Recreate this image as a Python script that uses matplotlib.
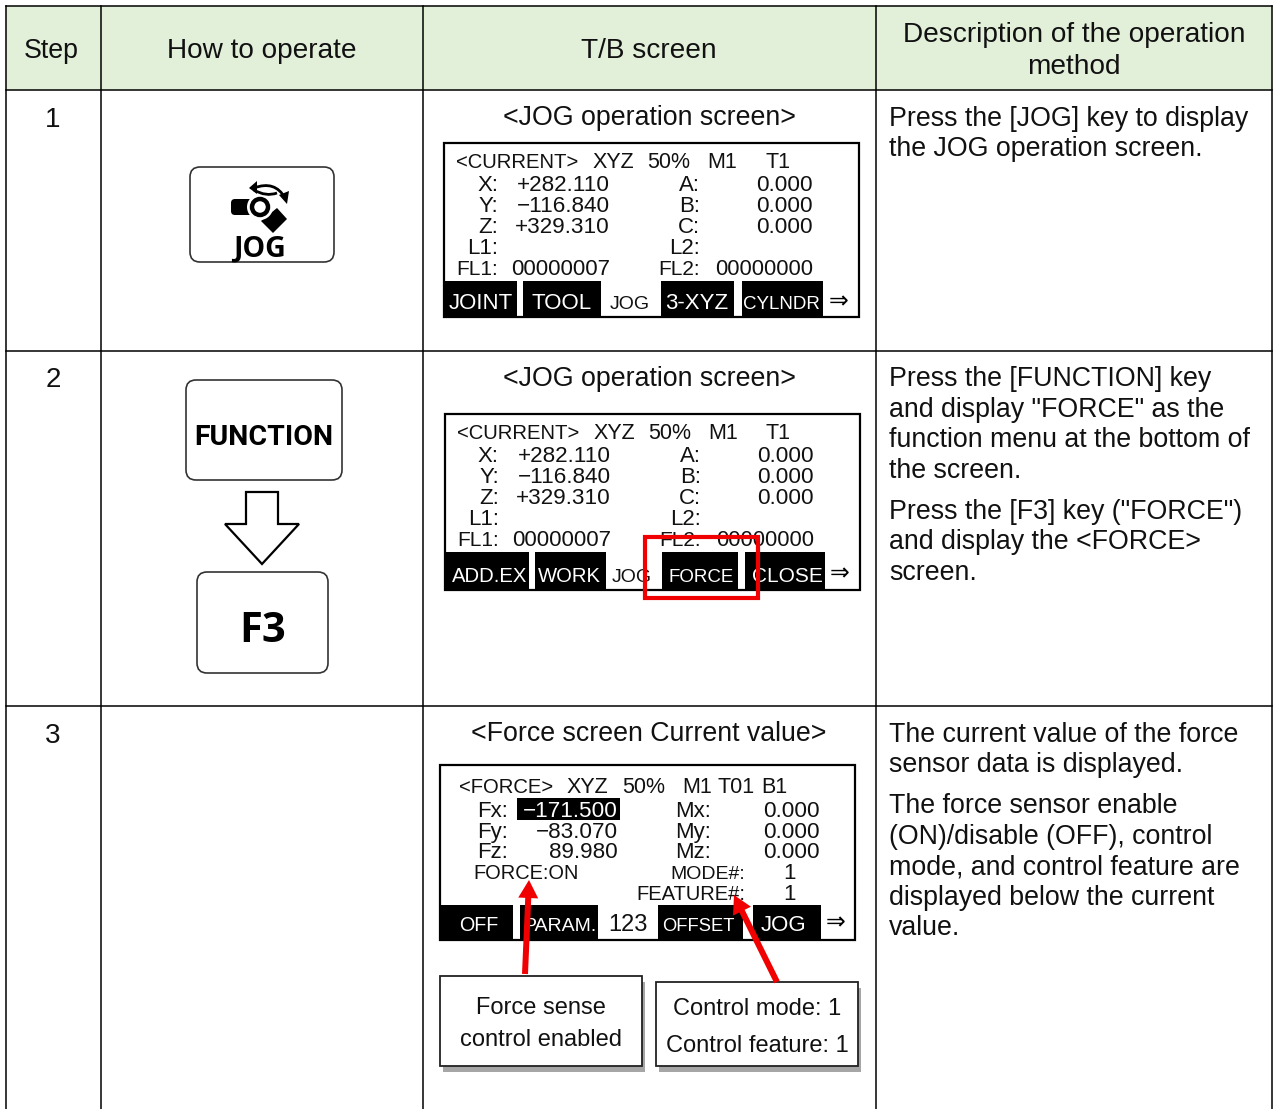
import matplotlib
matplotlib.use('Agg')
import matplotlib.pyplot as plt
from matplotlib.patches import Rectangle, FancyBboxPatch, Polygon, Circle, PathPatch, FancyArrow
from matplotlib.path import Path

plt.rcParams['font.family'] = ['Liberation Sans', 'DejaVu Sans']

# Table text
headers = ['Step', 'How to operate', 'T/B screen', 'Description of the operation\nmethod']
steps = ['1', '2', '3']
titles = ['<JOG operation screen>', '<JOG operation screen>', '<Force screen Current value>']
desc_1 = ['Press the [JOG] key to display', 'the JOG operation screen.']
desc_2 = ['Press the [FUNCTION] key', 'and display "FORCE" as the', 'function menu at the bottom of',
          'the screen.', 'Press the [F3] key ("FORCE")', 'and display the <FORCE>', 'screen.']
desc_3 = ['The current value of the force', 'sensor data is displayed.', 'The force sensor enable',
          '(ON)/disable (OFF), control', 'mode, and control feature are', 'displayed below the current', 'value.']

# Teaching box screen text
cur_top = ['<CURRENT>', 'XYZ', '50%', 'M1', 'T1']
cur_axes = ['X:', 'Y:', 'Z:', 'L1:']
cur_vals = ['+282.110', '\u2212116.840', '+329.310']
cur_axes2 = ['A:', 'B:', 'C:', 'L2:']
cur_vals2 = ['0.000', '0.000', '0.000']
fl_labels = ['FL1:', 'FL2:']
fl_vals = ['00000007', '00000000']
tabs_1 = ['JOINT', 'TOOL', 'JOG', '3-XYZ', 'CYLNDR']
tabs_2 = ['ADD.EX', 'WORK', 'JOG', 'FORCE', 'CLOSE']
force_top = ['<FORCE>', 'XYZ', '50%', 'M1', 'T01', 'B1']
force_axes = ['Fx:', 'Fy:', 'Fz:']
force_vals = ['\u2212171.500', '\u221283.070', '89.980']
moment_axes = ['Mx:', 'My:', 'Mz:']
moment_vals = ['0.000', '0.000', '0.000']
tabs_3 = ['OFF', 'PARAM.', '123', 'OFFSET', 'JOG']
note_a = ['Force sense', 'control enabled']
note_b = ['Control mode: 1', 'Control feature: 1']

fig = plt.figure(figsize=(12.73, 11.09), dpi=100)
ax = fig.add_axes([0, 0, 1, 1])
ax.set_xlim(0, 1273)
ax.set_ylim(1109, 0)
ax.axis('off')


def put(x, y, s, size=16, ha='left', color='#111111', **kw):
    ax.text(x, y, s, fontsize=size, ha=ha, va='baseline', color=color, **kw)


# table grid
GREEN = '#E2EFD9'
BODY = 19.25
ax.add_patch(Rectangle((6, 6), 1266, 84, fc=GREEN, ec='none'))
for x in [6, 101, 423, 876, 1272]:
    ax.plot([x, x], [6, 1109], color='black', lw=1.1)
for y in [6, 90, 351, 706]:
    ax.plot([6, 1272], [y, y], color='black', lw=1.1)

put(51.5, 58, headers[0], 19.3, 'center')
put(262, 58, headers[1], 20.2, 'center')
put(649, 58, headers[2], 20.2, 'center')
line1, line2 = headers[3].split('\n')
put(1074, 42, line1, 20.2, 'center')
put(1074, 74, line2, 20.2, 'center')

for y, s in zip([127, 387, 743], steps):
    put(53, y, s, 20, 'center')
for y, s in zip([125, 386, 741], titles):
    put(649, y, s, BODY, 'center')
for y, s in zip([126, 156], desc_1):
    put(889, y, s, BODY)
for y, s in zip([386, 417, 447, 478, 519, 549, 580], desc_2):
    put(889, y, s, BODY)
for y, s in zip([742, 772, 813, 844, 874, 905, 935], desc_3):
    put(889, y, s, BODY)


# key icons
def key(x0, y0, x1, y1):
    ax.add_patch(FancyBboxPatch((x0 + 10, y0 + 10), x1 - x0 - 20, y1 - y0 - 20,
                                boxstyle='round,pad=10,rounding_size=10',
                                fc='white', ec='#333333', lw=1.2))


key(190, 167, 334, 262)
key(186, 380, 342, 480)
key(197, 572, 328, 673)

ax.add_patch(FancyBboxPatch((235, 203), 20, 8, boxstyle='round,pad=4,rounding_size=4',
                            fc='black', ec='none'))
ax.add_patch(Polygon([(277, 208), (287, 219), (273, 233), (261, 221)], fc='black', ec='none'))
ax.add_patch(Circle((260, 207), 13, fc='white', ec='none'))
ax.add_patch(Circle((260, 207), 8, fc='white', ec='black', lw=3.2))
ax.add_patch(PathPatch(Path([(254, 188), (275, 180), (285, 198)],
                            [Path.MOVETO, Path.CURVE3, Path.CURVE3]), fc='none', ec='black', lw=2))
ax.add_patch(PathPatch(Path([(254, 190), (266, 197), (277, 193)],
                            [Path.MOVETO, Path.CURVE3, Path.CURVE3]), fc='none', ec='black', lw=2))
ax.add_patch(Polygon([(249, 188), (257, 181), (257, 194)], fc='black', ec='none'))
ax.add_patch(Polygon([(287, 204), (279, 195), (289, 191)], fc='black', ec='none'))
put(259.5, 257, 'JOG', 20.5, 'center', 'black', family='Open Sans', weight='bold')
put(264, 445, 'FUNCTION', 20.5, 'center', 'black', family='Roboto', weight='bold')
put(263, 642, 'F3', 30, 'center', 'black', family='Open Sans', weight='bold')
ax.add_patch(Polygon([(246, 492), (278, 492), (278, 524), (299, 524), (262, 564), (225, 524), (246, 524)],
                     fc='white', ec='black', lw=1.6, joinstyle='miter'))


# teaching box screens
def screen(x0, y0, x1, y1):
    ax.add_patch(Rectangle((x0, y0), x1 - x0, y1 - y0, fc='white', ec='black', lw=1.6))


def current_rows(dx, dy):
    for x, s, z in zip([456, 593, 647, 707, 765], cur_top, [14.6, 15.5, 15.5, 15.5, 15.5]):
        put(x + dx, 168 + dy, s, z)
    for y, a, v, b, w in zip([191, 212, 233], cur_axes, cur_vals, cur_axes2, cur_vals2):
        put(498 + dx, y + dy, a, 16, 'right')
        put(610 + dx, y + dy, v, 16.2, 'right')
        put(700 + dx, y + dy, b, 16, 'right')
        put(813 + dx, y + dy, w, 16.2, 'right')
    put(498 + dx, 254 + dy, cur_axes[3], 16, 'right')
    put(700 + dx, 254 + dy, cur_axes2[3], 16, 'right')
    put(498 + dx, 275 + dy, fl_labels[0], 15, 'right')
    put(610 + dx, 275 + dy, fl_vals[0], 16, 'right')
    put(700 + dx, 275 + dy, fl_labels[1], 15, 'right')
    put(813 + dx, 275 + dy, fl_vals[1], 15.8, 'right')


def arrow_glyph(x, y):
    put(x, y, '\u21d2', 17, 'center', 'black', family='DejaVu Sans', zorder=3)


screen(444, 143, 859, 317)
current_rows(0, 0)
for (a, b) in [(444, 517), (523, 601), (661, 734), (742, 823)]:
    ax.add_patch(Rectangle((a, 281), b - a, 36, fc='black', ec='none', zorder=2))
for c, s, z, col in zip([481, 562, 630, 697, 781], tabs_1, [16, 16, 14, 16, 13.5],
                        ['white', 'white', '#111111', 'white', 'white']):
    put(c, 309, s, z, 'center', col, zorder=3)
arrow_glyph(839, 308)

screen(445, 414, 860, 590)
current_rows(1, 271)
for (a, b) in [(446, 529), (535, 606), (662, 738), (745, 825)]:
    ax.add_patch(Rectangle((a, 552), b - a, 37, fc='black', ec='none', zorder=2))
for c, s, z, col in zip([489.5, 569.5, 632, 701.5, 787], tabs_2, [14.6, 14.6, 14, 13.5, 15],
                        ['white', 'white', '#111111', 'white', 'white']):
    put(c, 582, s, z, 'center', col, zorder=3)
arrow_glyph(840, 580)
ax.add_patch(Rectangle((645, 537), 113, 61, fc='none', ec='#F00000', lw=3, zorder=5))

screen(440, 765, 855, 940)
for x, s, z in zip([459, 567, 622, 682, 718, 761], force_top, [14.6, 15.5, 15.5, 15.5, 15.5, 15.5]):
    put(x, 793, s, z)
ax.add_patch(Rectangle((517, 798), 103, 22, fc='black', ec='none'))
for i, (y, a, v, b, w) in enumerate(zip([817, 838, 858], force_axes, force_vals, moment_axes, moment_vals)):
    put(477, y, a, 16)
    put(618, y, v, 16.2, 'right', 'white' if i == 0 else '#111111')
    put(675, y, b, 16)
    put(820, y, w, 16.2, 'right')
put(473, 879, 'FORCE:ON', 14.4)
put(745, 879, 'MODE#:', 14, 'right')
put(745, 900, 'FEATURE#:', 14.5, 'right')
put(796, 879, '1', 16, 'right')
put(796, 900, '1', 16, 'right')
for (a, b) in [(440, 513), (520, 598), (658, 743), (753, 821)]:
    ax.add_patch(Rectangle((a, 905), b - a, 35, fc='black', ec='none', zorder=2))
for c, s, z, col in zip([479, 560, 628, 698, 783], tabs_3, [14.2, 14, 17, 13.2, 16],
                        ['white', 'white', '#111111', 'white', 'white']):
    put(c, 931, s, z, 'center', col, zorder=3)
arrow_glyph(836, 929)

# red callout arrows
ax.add_patch(FancyArrow(525, 974, 4, -94, width=6, head_width=20, head_length=18,
                        length_includes_head=True, fc='#F00000', ec='none', zorder=6))
ax.add_patch(FancyArrow(777, 982, -43, -87, width=6, head_width=20, head_length=18,
                        length_includes_head=True, fc='#F00000', ec='none', zorder=6))

# note boxes with shadow
for x0, y0, x1, y1 in [(440, 976, 642, 1066), (656, 982, 858, 1066)]:
    ax.add_patch(Rectangle((x0 + 3, y0 + 6), x1 - x0, y1 - y0, fc='#A6A6A6', ec='none'))
    ax.add_patch(Rectangle((x0, y0), x1 - x0, y1 - y0, fc='white', ec='#222222', lw=1.3))
for y, s in zip([1014, 1046], note_a):
    put(541, y, s, 17, 'center')
for y, s in zip([1015, 1052], note_b):
    put(757, y, s, 17, 'center')

fig.savefig('out.png', dpi=100)
